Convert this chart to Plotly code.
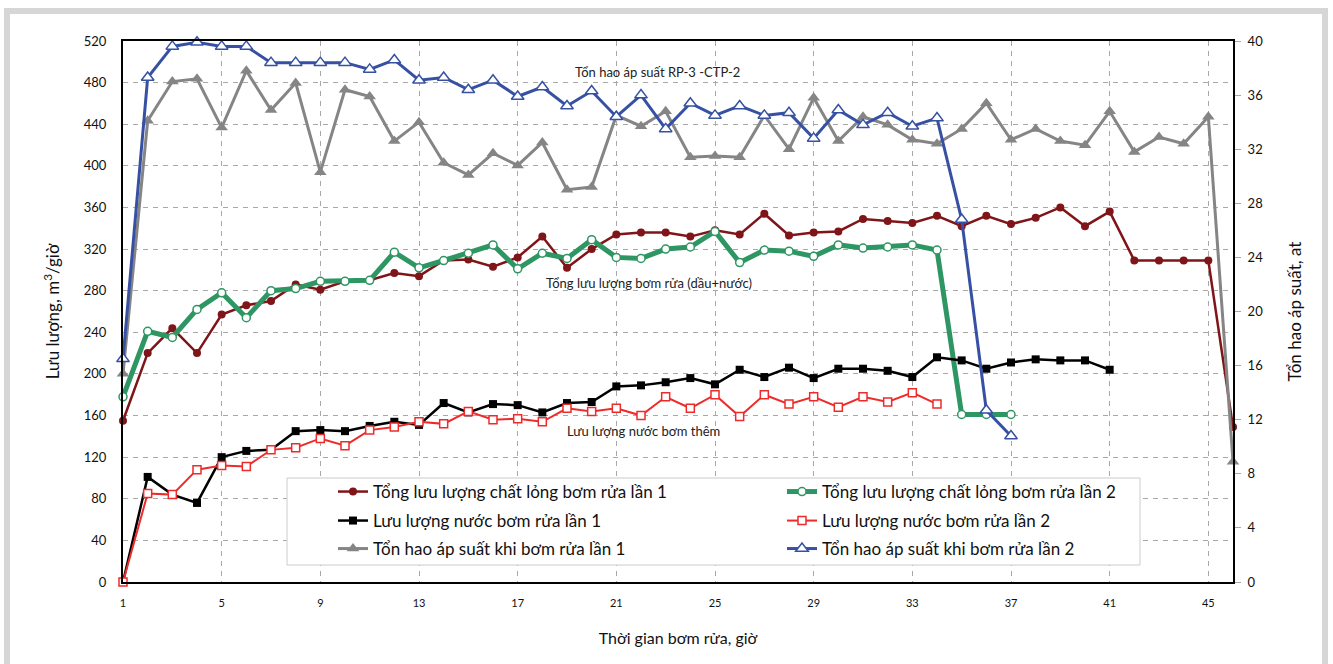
import plotly.graph_objects as go

# Hours of flushing (x axis)
hours = list(range(1, 47))
x_ticks = list(range(1, 46, 4))

# Flow rates, m3/h (left axis)
tong_lan1 = [155, 220, 244, 220, 257, 266, 270, 286, 281, 289, 290, 297, 294, 309, 310,
             303, 312, 332, 302, 320, 334, 336, 336, 332, 338, 334, 354, 333, 336, 337,
             349, 347, 345, 352, 342, 352, 344, 350, 360, 342, 356, 309, 309, 309, 309, 149]
tong_lan2 = [178, 241, 235, 262, 278, 254, 280, 282, 289, 289, 290, 317, 302, 309, 316,
             324, 301, 316, 311, 329, 312, 311, 320, 322, 337, 307, 319, 318, 313, 324,
             321, 322, 324, 319, 161, 161, 161]
nuoc_lan1 = [0, 101, 84, 76, 120, 126, 127, 145, 146, 145, 150, 154, 151, 172, 163,
             171, 170, 163, 172, 173, 188, 189, 192, 196, 190, 204, 197, 206, 196, 205,
             205, 203, 197, 216, 213, 205, 211, 214, 213, 213, 204]
nuoc_lan2 = [0, 85, 84, 108, 112, 111, 127, 129, 138, 131, 146, 149, 154, 152, 164,
             156, 157, 154, 167, 164, 167, 160, 178, 167, 180, 159, 180, 171, 178, 168,
             178, 173, 182, 171]

# Pressure loss, at (right axis)
ap_lan1 = [15.4, 34.1, 37.0, 37.2, 33.6, 37.8, 34.9, 36.9, 30.3, 36.4, 35.9, 32.6, 34.0,
           31.0, 30.1, 31.7, 30.8, 32.5, 29.0, 29.2, 34.5, 33.7, 34.8, 31.4, 31.5, 31.4,
           34.5, 32.0, 35.8, 32.6, 34.4, 33.8, 32.7, 32.4, 33.5, 35.4, 32.7, 33.5, 32.6,
           32.3, 34.8, 31.8, 32.9, 32.4, 34.4, 8.9]
ap_lan2 = [16.5, 37.3, 39.6, 39.9, 39.6, 39.6, 38.4, 38.4, 38.4, 38.4, 37.9, 38.6, 37.1,
           37.3, 36.4, 37.1, 35.9, 36.6, 35.2, 36.3, 34.4, 36.0, 33.5, 35.4, 34.5, 35.2,
           34.5, 34.7, 32.8, 34.9, 33.8, 34.7, 33.7, 34.3, 26.8, 12.7, 10.8]

FONT = "Lato"
DARKRED = "#7f1518"
GREEN = "#2e9663"
RED = "#ee2b2b"
GRAY = "#858585"
BLUE = "#3651a3"

fig = go.Figure()

fig.add_trace(go.Scatter(
    x=hours[:len(tong_lan1)], y=tong_lan1, name="Tổng lưu lượng chất lỏng bơm rửa lần 1",
    mode="lines+markers", line=dict(color=DARKRED, width=2.5),
    marker=dict(symbol="circle", size=8, color=DARKRED), legend="legend", cliponaxis=False))
fig.add_trace(go.Scatter(
    x=hours[:len(tong_lan2)], y=tong_lan2, name="Tổng lưu lượng chất lỏng bơm rửa lần 2",
    mode="lines+markers", line=dict(color=GREEN, width=5),
    marker=dict(symbol="circle", size=8, color="white", line=dict(color=GREEN, width=1.5)),
    legend="legend", cliponaxis=False))
fig.add_trace(go.Scatter(
    x=hours[:len(nuoc_lan1)], y=nuoc_lan1, name="Lưu lượng nước bơm rửa lần 1",
    mode="lines+markers", line=dict(color="black", width=2.5),
    marker=dict(symbol="square", size=8, color="black"), legend="legend2", cliponaxis=False))
fig.add_trace(go.Scatter(
    x=hours[:len(nuoc_lan2)], y=nuoc_lan2, name="Lưu lượng nước bơm rửa lần 2",
    mode="lines+markers", line=dict(color=RED, width=2),
    marker=dict(symbol="square", size=8, color="white", line=dict(color=RED, width=1.5)),
    legend="legend2", cliponaxis=False))
fig.add_trace(go.Scatter(
    x=hours[:len(ap_lan1)], y=ap_lan1, name="Tổn hao áp suất khi bơm rửa lần 1",
    mode="lines+markers", line=dict(color=GRAY, width=3), yaxis="y2",
    marker=dict(symbol="triangle-up", size=11, color=GRAY), legend="legend3", cliponaxis=False))
fig.add_trace(go.Scatter(
    x=hours[:len(ap_lan2)], y=ap_lan2, name="Tổn hao áp suất khi bơm rửa lần 2",
    mode="lines+markers", line=dict(color=BLUE, width=3), yaxis="y2",
    marker=dict(symbol="triangle-up", size=11, color="white", line=dict(color=BLUE, width=1.5)),
    legend="legend3", cliponaxis=False))

W, H = 1333, 664
L, R, T, B = 123, 100, 41, 82
PW, PH = W - L - R, H - T - B


def px(xp):
    return (xp - L) / PW


def py(yp):
    return (H - B - yp) / PH


grid = dict(showgrid=True, gridcolor="#a8a8a8", gridwidth=1, griddash="5px,5px")

legend_common = dict(orientation="h", xanchor="left", yanchor="middle",
                     bgcolor="rgba(0,0,0,0)", borderwidth=0, entrywidth=404,
                     entrywidthmode="pixels", font=dict(family=FONT, size=17, color="#111"),
                     itemclick=False, itemdoubleclick=False)

fig.update_layout(
    width=W, height=H,
    margin=dict(l=L, r=R, t=T, b=B),
    paper_bgcolor="white", plot_bgcolor="white",
    font=dict(family=FONT, color="#111"),
    xaxis=dict(range=[1, 46], tickvals=x_ticks, tickfont=dict(size=11, family="Liberation Sans Narrow, " + FONT),
               showline=True, linecolor="black", linewidth=2, mirror=True, zeroline=False,
               ticks="", ticklabelstandoff=10,
               title=dict(text="Thời gian bơm rửa, giờ", font=dict(size=16), standoff=25), **grid),
    yaxis=dict(range=[0, 520], dtick=40, tickfont=dict(size=13),
               showline=True, linecolor="black", linewidth=2, mirror=True, zeroline=False,
               ticks="", ticklabelstandoff=12,
               title=dict(text="Lưu lượng, m<sup>3</sup>/giờ", font=dict(size=17), standoff=20), **grid),
    yaxis2=dict(range=[0, 40], dtick=4, overlaying="y", side="right", tickfont=dict(size=13),
                showgrid=False, zeroline=False, showline=True, linecolor="black", linewidth=2,
                ticks="outside", ticklen=6, tickcolor="#a8a8a8", ticklabelstandoff=4,
                title=dict(text="Tổn hao áp suất, at", font=dict(size=17), standoff=27)),
    legend=dict(x=px(333), y=py(492), **legend_common),
    legend2=dict(x=px(333), y=py(521), **legend_common),
    legend3=dict(x=px(333), y=py(549), **legend_common),
    shapes=[
        # outer light-gray frame
        dict(type="rect", xref="paper", yref="paper", x0=px(7), x1=px(1325), y0=py(676), y1=py(11),
             line=dict(color="#d6d6d6", width=6), fillcolor="rgba(0,0,0,0)", layer="below"),
        # legend box
        dict(type="rect", xref="paper", yref="paper", x0=px(287), x1=px(1140), y0=py(565), y1=py(478),
             line=dict(color="#cccccc", width=1), fillcolor="white", layer="above"),
    ],
    annotations=[
        dict(text="Tổn hao áp suất RP-3 -CTP-2", x=px(657), y=py(72), xref="paper", yref="paper",
             xanchor="center", yanchor="middle", showarrow=False, font=dict(size=13, color="#222")),
        dict(text="Tổng lưu lượng bơm rửa (dầu+nước)", x=px(649), y=py(283), xref="paper", yref="paper",
             xanchor="center", yanchor="middle", showarrow=False, font=dict(size=13, color="#222")),
        dict(text="Lưu lượng nước bơm thêm", x=px(643), y=py(431), xref="paper", yref="paper",
             xanchor="center", yanchor="middle", showarrow=False, font=dict(size=13, color="#222")),
    ],
)

fig.write_html("out.html")
